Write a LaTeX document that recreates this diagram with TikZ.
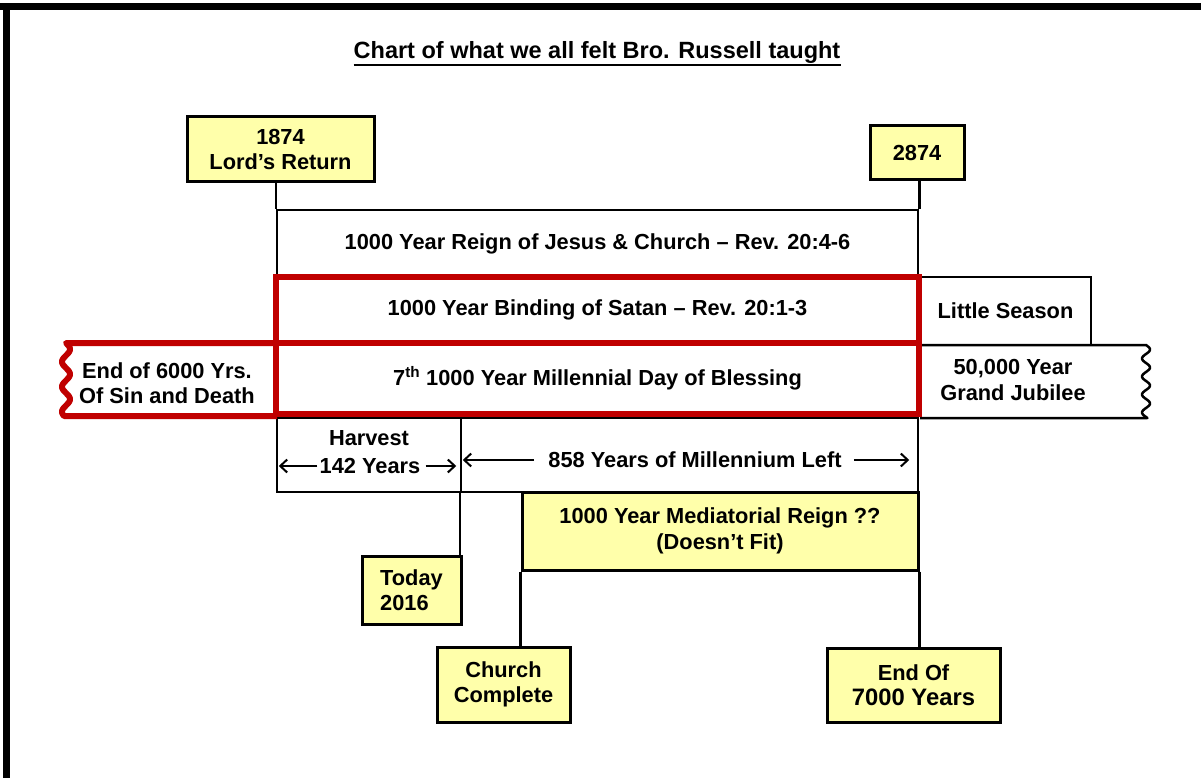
\documentclass[tikz,border=0pt]{standalone}
\usepackage{fontspec}
\setmainfont{Liberation Sans}
\usetikzlibrary{arrows.meta}
\definecolor{byellow}{RGB}{255,255,170}
\definecolor{bred}{RGB}{192,0,0}
\begin{document}
\begin{tikzpicture}[x=1pt,y=-1pt,
  lbl/.style={font=\bfseries\fontsize{21.8}{25.5}\selectfont, align=center, inner sep=0},
  box/.style={draw=black, line width=2.5pt, inner sep=0, align=center, font=\bfseries\fontsize{21.8}{25.5}\selectfont},
  ybox/.style={box, fill=byellow, line width=3pt},
  rbox/.style={box, draw=bred, line width=6pt},
  conn/.style={line width=2.5pt},
  arr/.style={line width=2pt, -{Straight Barb[length=7pt,width=13pt]}}
]
\useasboundingbox (0,0) rectangle (1201,778);
\fill[white] (0,0) rectangle (1201,778);
\fill[black] (0,3) rectangle (1201,10);
\fill[black] (3,3) rectangle (10,778);

% title
\node[anchor=base, inner sep=0, font=\bfseries\fontsize{23.5}{28}\selectfont] (title) at (597,59) {Chart of what we all felt Bro. Russell taught};
\draw[line width=2pt] ([yshift=-6pt]title.base west) -- ([yshift=-6pt]title.base east);

% top markers
\node[ybox, minimum width=187pt, minimum height=65pt] (r1874) at (280.5,149.5) {1874\\Lord’s Return};
\node[ybox, minimum width=94pt, minimum height=54pt] (r2874) at (917,153) {2874};

% black bars
\node[box, minimum width=641pt, minimum height=67pt] (reign) at (597.5,243.5) {1000 Year Reign of Jesus \& Church – Rev. 20:4-6};
\node[box, minimum width=171pt, minimum height=68pt] (little) at (1005.5,311) {Little Season};
\draw[line width=2.5pt, line join=round] (920,345) -- (1146,345) -- plot[domain=345:418, samples=80] ({1146+4*sin((\x-345)*20)},\x) -- (920,418);
\node[lbl] (jubilee) at (1013,380) {50,000 Year\\Grand Jubilee};

\node[box, minimum width=184pt, minimum height=74pt] (harvest) at (369,455) {};
\node[lbl] (harvestlbl) at (369,438) {Harvest};
\node[lbl] (h142) at (370,466) {142 Years};
\draw[arr] ([xshift=-2pt]h142.west) -- ([xshift=3pt]harvest.west |- h142.west);
\draw[arr] ([xshift=5pt]h142.east) -- ([xshift=-6pt]harvest.east |- h142.east);

\node[box, minimum width=457pt, minimum height=74pt] (left858) at (689.5,455) {};
\node[lbl] (l858) at (695,460) {858 Years of Millennium Left};
\draw[arr] ([xshift=-14pt]l858.west) -- ([xshift=3pt]left858.west |- l858.west);
\draw[arr] ([xshift=12pt]l858.east) -- ([xshift=-10pt]left858.east |- l858.east);

% red bars
\node[rbox, minimum width=643pt, minimum height=66pt] (binding) at (597.5,310) {1000 Year Binding of Satan – Rev. 20:1-3};
\node[rbox, minimum width=643pt, minimum height=71pt] (seventh) at (597.5,378.5) {7\textsuperscript{th} 1000 Year Millennial Day of Blessing};
\draw[bred, line width=6pt, line join=round] (277,343) -- (67,343) -- plot[domain=343:416, samples=80] ({66+4*sin((\x-343)*14.4)},\x) -- (277,416);
\node[lbl] (endsix) at (167,383) {End of 6000 Yrs.\\Of Sin and Death};

% lower yellow boxes
\node[ybox, minimum width=396pt, minimum height=78pt] (medi) at (720,531) {1000 Year Mediatorial Reign ??\\(Doesn’t Fit)};
\node[ybox, minimum width=99pt, minimum height=68pt, align=left] (today) at (411.5,590) {Today\\2016};
\node[ybox, minimum width=133pt, minimum height=75pt] (church) at (503.5,684.5) {Church\\Complete};
\node[ybox, minimum width=173pt, minimum height=74pt] (end7000) at (913.5,685) {End Of\\{\fontsize{23.8}{28}\selectfont 7000 Years}};

% connectors
\draw[conn] (r1874.south -| reign.north west) -- (reign.north west);
\draw[conn] (reign.north east |- r2874.south) -- (reign.north east);
\draw[conn] (left858.south west) -- (left858.south west |- today.north);
\draw[conn] (medi.south west) -- (medi.south west |- church.north);
\draw[conn] (medi.south east) -- (medi.south east |- end7000.north);
\end{tikzpicture}
\end{document}
